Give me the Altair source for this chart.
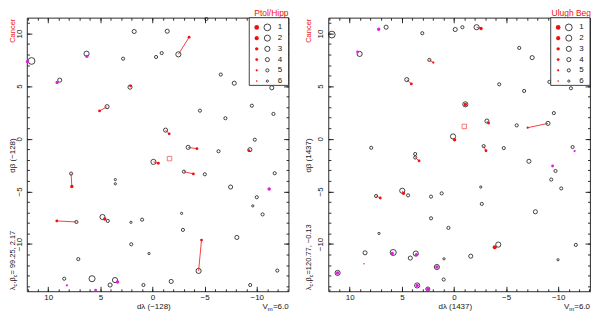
import altair as alt
import pandas as pd

FONT = "Liberation Sans"
INK = "#151515"
RED = "#f01010"
MAGENTA = "#e01ee0"
SQUARE = "#f05a5a"

# ---------------- left panel (Ptol/Hipp) ----------------
L_CIRC_X = [11.6, 6.33, 8.9, 2.82, 1.76, -1.41, -0.34, -0.88, -2.48, -5.17, -6.55, -7.84, -11.44, -9.53, -11.6,
            -4.55, -6.99, -9.81, 4.36, 2.16, -1.25, -3.42, -6.33, -9.34, -0.09, 7.81, 3.57, 3.57, -3.01, -5.02,
            -7.49, -11.72, -10.0, -9.62, -10.56, -2.79, -2.92, 1.0, 2.07, 4.8, 4.29, 7.3, -8.09, -4.42, 2.04,
            0.34, 7.12, -11.97, 8.47, 5.8, 3.6, 4.07, 0.87, -1.79, -9.37]
L_CIRC_Y = [7.39, 8.08, 5.57, 7.61, 10.19, 10.22, 7.77, 8.14, 8.02, 11.38, 6.1, 5.28, 4.84, 3.14, 2.36,
            2.67, 1.95, -0.09, 3.05, 4.9, 0.82, -0.82, -1.19, -1.04, -2.2, -3.31, -3.88, -4.28, -3.13, -3.38,
            -4.59, -3.28, -5.56, -6.38, -7.19, -7.09, -8.66, -7.69, -7.94, -7.44, -7.81, -7.91, -9.38, -12.56, -10.03,
            -10.91, -11.44, -12.53, -13.3, -13.3, -13.43, -13.9, -13.9, -13.56, -13.9]
L_CIRC_M = [1, 3, 4, 5, 4, 4, 5, 5, 3, 5, 5, 4, 4, 5, 5,
            5, 5, 5, 4, 4, 4, 4, 5, 4, 3, 5, 6, 6, 5, 5,
            4, 5, 5, 6, 5, 6, 5, 5, 6, 3, 5, 5, 4, 3, 5,
            6, 5, 5, 5, 2, 3, 4, 5, 4, 5]
L_DOT_X = [-3.51, 5.08, 2.1, -1.6, -4.26, -9.25, -0.56, 7.74, -3.92, 4.58, 9.18, -4.7]
L_DOT_Y = [9.65, 2.64, 5.03, 0.47, -0.94, -1.13, -2.33, -4.53, -3.34, -7.63, -7.81, -9.63]
L_DOT_M = [4, 4, 4, 4, 4, 4, 4, 3, 4, 3, 4, 4]
L_MAG_X = [12.0, 6.3, 9.15, -11.19, 8.21, 5.46, 3.35]
L_MAG_Y = [7.33, 7.83, 5.35, -4.78, -13.93, -14.38, -13.62]
L_MAG_M = [3, 3, 3, 3, 5, 4, 3]
L_LINE_X1 = [-3.51, 5.08, -1.6, -4.26, -0.56, 7.74, -3.92, 9.18, -4.7]
L_LINE_Y1 = [9.65, 2.64, 0.47, -0.94, -2.33, -4.53, -3.34, -7.81, -9.63]
L_LINE_X2 = [-2.48, 4.36, -1.25, -3.42, -0.09, 7.81, -3.01, 7.3, -4.42]
L_LINE_Y2 = [8.02, 3.05, 0.82, -0.82, -2.2, -3.31, -3.13, -7.91, -12.56]
L_SQ_X = [-1.63]
L_SQ_Y = [-1.89]

# ---------------- right panel (Ulugh Beg) ----------------
R_CIRC_X = [11.72, 6.51, 9.05, 3.04, -0.12, -0.81, -2.17, 2.36, 4.53, -6.26, -7.5, -4.34, -6.73, -9.15, -11.22,
            -9.58, -6.02, -9.02, -1.09, -3.16, 0.09, 7.94, -2.85, -4.78, -11.38, 3.72, 3.72, -7.19, -9.74, -9.33,
            -10.29, -2.57, -2.67, -7.81, 4.96, 4.4, 7.47, 2.2, 1.18, 2.2, 0.53, 7.19, -4.25, -11.69, 8.53,
            5.83, 3.66, 4.19, 0.96, -1.61, -9.98, 11.16, 1.64, 0.99, 3.53, 2.51]
R_CIRC_Y = [9.9, 10.6, 8.06, 10.03, 10.38, 10.6, 10.6, 7.49, 5.62, 8.63, 7.71, 5.17, 4.54, 5.4, 4.8,
            2.44, 1.27, 1.46, 3.27, 1.68, 0.22, -0.86, -0.7, -0.89, -0.79, -1.45, -1.78, -2.14, -3.06, -3.88,
            -4.72, -4.59, -6.19, -6.94, -4.94, -5.38, -5.44, -5.5, -5.19, -7.56, -8.47, -9.0, -10.06, -10.09, -10.84,
            -10.81, -10.91, -11.34, -11.41, -11.16, -11.5, -12.75, -12.19, -13.38, -13.94, -14.28]
R_CIRC_M = [1, 4, 3, 5, 4, 5, 3, 5, 4, 5, 4, 5, 5, 5, 5,
            5, 5, 4, 3, 4, 3, 5, 5, 5, 5, 5, 5, 4, 5, 5,
            5, 6, 5, 4, 3, 5, 5, 5, 5, 5, 5, 6, 3, 5, 4,
            2, 3, 4, 6, 4, 6, 3, 3, 5, 3, 4]
R_DOT_X = [-2.6, 1.98, 4.09, -7.07, -1.09, -3.32, -0.06, -3.07, 3.35, 4.84, 7.07, -3.91]
R_DOT_Y = [10.48, 7.24, 5.21, 1.05, 3.25, 1.49, -0.1, -1.14, -2.1, -5.19, -5.63, -10.31]
R_DOT_M = [3, 5, 4, 5, 3, 4, 3, 4, 4, 3, 4, 2]
R_MAG_X = [7.22, 9.24, -11.57, -9.46, 5.92, 3.6, 8.62, 11.16, 1.64, 3.53, 2.51]
R_MAG_Y = [10.41, 8.25, -1.17, -2.59, -10.91, -11.03, -11.88, -12.75, -12.19, -13.94, -14.28]
R_MAG_M = [3, 4, 5, 4, 3, 3, 6, 3, 3, 3, 3]
R_LINE_X1 = [-2.6, 1.98, 4.09, -7.07, -3.32, -3.07, 3.35, 4.84, 7.07]
R_LINE_Y1 = [10.48, 7.24, 5.21, 1.05, 1.49, -1.14, -2.1, -5.19, -5.63]
R_LINE_X2 = [-2.17, 2.36, 4.53, -9.02, -3.16, -2.85, 3.72, 4.96, 7.47]
R_LINE_Y2 = [10.6, 7.49, 5.62, 1.46, 1.68, -0.7, -1.78, -4.94, -5.44]
R_SQ_X = [-0.99]
R_SQ_Y = [1.17]

# ---------------- shared ----------------
X_DOMAIN = [-13.05, 12.05]
Y_DOMAIN = [-14.5, 11.5]
X_MAJOR = [-10, -5, 0, 5, 10]
X_MINOR = list(range(-13, 13))
Y_MAJOR = [-10, -5, 0, 5, 10]
Y_MINOR = list(range(-14, 12))
MAGS = [1, 2, 3, 4, 5, 6]
CIRCLE_SIZE = [46, 37, 27, 17, 10, 5]
DOT_SIZE = [22, 17, 12, 8, 5, 2.5]

W, H = 263, 275


def axis(orient, values, size, labels):
    kw = dict(orient=orient, values=values, tickSize=size, offset=-size, domain=False, grid=False,
              title=None, labels=labels, ticks=True, tickColor=INK, tickWidth=0.9)
    if labels:
        kw.update(labelFont=FONT, labelFontSize=8, labelColor=INK, labelOverlap=False,
                  labelFlush=False, labelBound=False)
        if orient == "left":
            kw.update(labelAngle=270, labelAlign="center", labelBaseline="bottom", labelPadding=3.5)
        else:
            kw.update(labelAlign="center", labelBaseline="top", labelPadding=2.5)
    return alt.Axis(**kw)


def xenc(ax, field="x"):
    return alt.X(f"{field}:Q", scale=alt.Scale(domain=X_DOMAIN, reverse=True, nice=False, zero=False), axis=ax)


def yenc(ax, field="y"):
    return alt.Y(f"{field}:Q", scale=alt.Scale(domain=Y_DOMAIN, nice=False, zero=False), axis=ax)


def sized(xs, ys, ms, table):
    return pd.DataFrame({"x": xs, "y": ys, "mag": ms, "sz": [table[m - 1] for m in ms]})


def txt(s, x, y, size=8.5, color=INK, angle=0, align="center", baseline="alphabetic"):
    return alt.Chart(pd.DataFrame({"t": [s]})).mark_text(
        font=FONT, fontSize=size, color=color, angle=angle, align=align, baseline=baseline
    ).encode(x=alt.value(x), y=alt.value(y), text="t:N")


def panel(cx, cy, cm, dx, dy, dm, mx, my, mm, lx1, ly1, lx2, ly2, sqx, sqy,
          name, name_dx, coord, dlab, off):
    circles = alt.Chart(sized(cx, cy, cm, CIRCLE_SIZE)).mark_point(
        shape="circle", filled=False, color=INK, strokeWidth=0.8, opacity=1
    ).encode(x=xenc(axis("bottom", X_MAJOR, 5, True)), y=yenc(axis("left", Y_MAJOR, 5, True)),
             size=alt.Size("sz:Q", scale=None))
    lines = alt.Chart(pd.DataFrame({"x": lx1, "y": ly1, "x2": lx2, "y2": ly2})).mark_rule(
        color=RED, strokeWidth=0.8
    ).encode(x=xenc(axis("top", X_MAJOR, 5, False)), y=yenc(axis("right", Y_MAJOR, 5, False)),
             x2="x2:Q", y2="y2:Q")
    dots = alt.Chart(sized(dx, dy, dm, DOT_SIZE)).mark_circle(color=RED, opacity=1).encode(
        x=xenc(axis("bottom", X_MINOR, 2.5, False)), y=yenc(axis("left", Y_MINOR, 2.5, False)),
        size=alt.Size("sz:Q", scale=None))
    mags = alt.Chart(sized(mx, my, mm, DOT_SIZE)).mark_circle(color=MAGENTA, opacity=1).encode(
        x=xenc(axis("top", X_MINOR, 2.5, False)), y=yenc(axis("right", Y_MINOR, 2.5, False)),
        size=alt.Size("sz:Q", scale=None))
    square = alt.Chart(pd.DataFrame({"x": sqx, "y": sqy})).mark_point(
        shape="square", filled=False, color=SQUARE, size=20, strokeWidth=0.8, opacity=1
    ).encode(x=xenc(None), y=yenc(None))

    # legend box
    leg = pd.DataFrame({"mag": MAGS, "dot": DOT_SIZE, "circ": CIRCLE_SIZE})
    base = alt.Chart(leg).transform_calculate(ly="9.7 + (datum.mag - 1) * 10.8")
    ly = alt.Y("ly:Q", scale=None, axis=None)
    frame = alt.Chart(pd.DataFrame({"a": [0]})).mark_rect(
        fill="white", stroke=INK, strokeWidth=0.8
    ).encode(x=alt.value(W - 39.5), x2=alt.value(W), y=alt.value(0), y2=alt.value(68))
    ldots = base.mark_circle(color=RED, opacity=1).encode(
        x=alt.value(W - 32), y=ly, size=alt.Size("dot:Q", scale=None))
    lcirc = base.mark_point(shape="circle", filled=False, color=INK, strokeWidth=0.8, opacity=1).encode(
        x=alt.value(W - 21.3), y=ly, size=alt.Size("circ:Q", scale=None))
    llab = base.mark_text(font=FONT, fontSize=8, color=INK, align="center", baseline="middle").encode(
        x=alt.value(W - 8.7), y=ly, text="mag:N")

    texts = [
        txt(name, W + name_dx, -1.5, size=8.5, color=RED, align="right"),
        txt("Cancer", -off, 1, size=7.5, color=RED, angle=270, align="right", baseline="middle"),
        txt("d\u03b2 " + dlab, -off, H / 2 + 1, size=8, angle=270, align="center", baseline="middle"),
        txt("d\u03bb " + dlab, W * 0.485, H + 17.5, size=8),
        # V_m = 6.0
        txt("=6.0", W, H + 17.5, size=8, align="right"),
        txt("m", W - 15.8, H + 19.5, size=6, align="right"),
        txt("V", W - 20.8, H + 17.5, size=8, align="right"),
        # lambda_c, beta_c = ...
        txt("\u03bb", -off, H - 1, size=7.5, angle=270, align="left", baseline="middle"),
        txt("c", -off + 2, H - 4.9, size=5.5, angle=270, align="left", baseline="middle"),
        txt(",\u03b2", -off, H - 7.7, size=7.5, angle=270, align="left", baseline="middle"),
        txt("c", -off + 2, H - 14.1, size=5.5, angle=270, align="left", baseline="middle"),
        txt(coord, -off, H - 16.9, size=7.5, angle=270, align="left", baseline="middle"),
    ]

    return alt.layer(circles, lines, dots, mags, square, frame, ldots, lcirc, llab, *texts).properties(
        width=W, height=H
    ).resolve_axis(x="independent", y="independent")


left = panel(L_CIRC_X, L_CIRC_Y, L_CIRC_M, L_DOT_X, L_DOT_Y, L_DOT_M, L_MAG_X, L_MAG_Y, L_MAG_M,
             L_LINE_X1, L_LINE_Y1, L_LINE_X2, L_LINE_Y2, L_SQ_X, L_SQ_Y,
             "Ptol/Hipp", 0, "= 99.25,  2.17", "(\u2212128)", 14)
right = panel(R_CIRC_X, R_CIRC_Y, R_CIRC_M, R_DOT_X, R_DOT_Y, R_DOT_M, R_MAG_X, R_MAG_Y, R_MAG_M,
              R_LINE_X1, R_LINE_Y1, R_LINE_X2, R_LINE_Y2, R_SQ_X, R_SQ_Y,
              "Ulugh Beg", 1, "=120.77, \u22120.13", "(1437)", 19)

chart = alt.hconcat(left, right, spacing=15).properties(padding=0, background="white").configure_view(
    stroke=INK, strokeWidth=0.9
)
chart.save("out.html", embed_options={"renderer": "svg", "actions": False})
